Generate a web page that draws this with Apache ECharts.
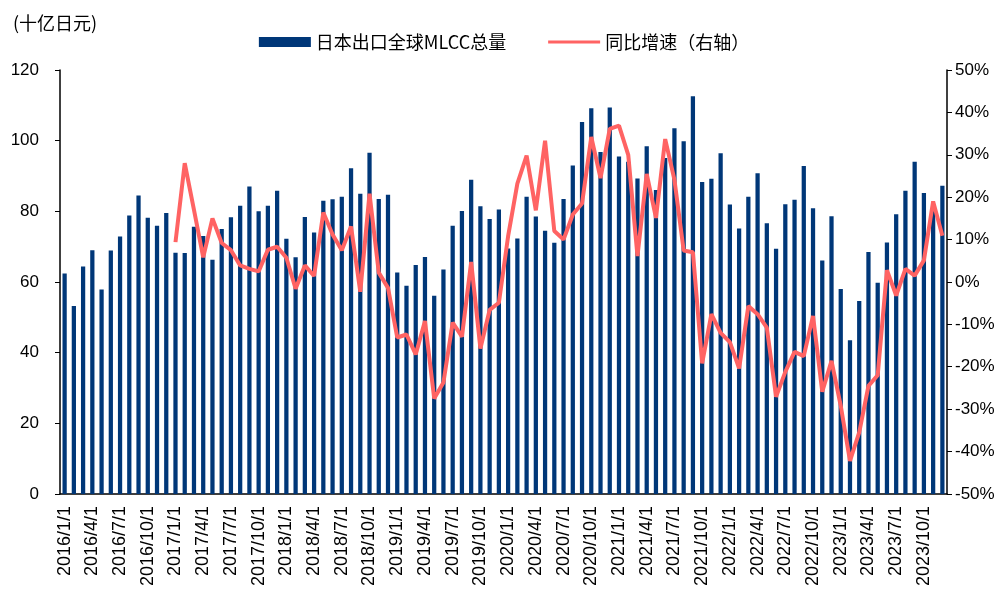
<!DOCTYPE html>
<html>
<head>
<meta charset="utf-8">
<script src="https://cdn.jsdelivr.net/npm/echarts@6/dist/echarts.min.js"></script>
<style>
  html, body { margin: 0; padding: 0; background: #fff; }
  #chart { width: 1008px; height: 589px; }
</style>
</head>
<body>
<div id="chart"></div>
<script>
// Monthly MLCC exports from Japan (billion yen) and year-on-year growth (%)
const months = [];
for (let y = 2016; y <= 2023; y++) {
  for (let m = 1; m <= 12; m++) months.push(y + '/' + m + '/1');
}

const exportValues = [
  62.4, 53.2, 64.4, 69.0, 57.9, 68.9, 72.9, 78.8, 84.5, 78.2, 75.9, 79.5,
  68.3, 68.2, 75.6, 73.0, 66.3, 75.0, 78.3, 81.6, 87.0, 80.0, 81.6, 85.8,
  72.2, 67.0, 78.4, 74.0, 83.0, 83.4, 84.1, 92.2, 85.0, 96.6, 83.5, 84.7,
  62.7, 58.9, 64.8, 67.1, 56.1, 63.5, 75.9, 80.1, 88.9, 81.4, 77.8, 80.5,
  69.5, 72.3, 84.1, 78.5, 74.5, 71.1, 83.5, 93.0, 105.3, 109.2, 96.8, 109.4,
  95.5, 94.0, 89.3, 98.4, 86.0, 95.1, 103.5, 99.8, 112.6, 88.3, 89.2, 96.4,
  81.9, 75.1, 84.1, 90.8, 76.6, 69.4, 82.0, 83.3, 92.8, 80.9, 66.1, 78.6,
  58.0, 43.5, 54.6, 68.5, 59.8, 71.2, 79.2, 85.8, 94.0, 85.2, 80.5, 87.2
];

const yoyGrowth = [
  null, null, null, null, null, null, null, null, null, null, null, null,
  9.4, 28.0, 17.0, 5.8, 15.0, 9.2, 7.5, 3.9, 3.1, 2.5, 7.6, 8.3,
  5.7, -1.6, 3.9, 1.4, 16.4, 11.2, 7.5, 13.1, -2.3, 20.8, 2.2, -1.4,
  -13.1, -12.4, -17.1, -9.2, -27.5, -23.7, -9.6, -12.9, 4.7, -15.7, -6.6, -4.9,
  10.8, 23.2, 29.8, 16.9, 33.3, 12.0, 10.0, 15.9, 18.5, 34.2, 24.5, 36.1,
  36.9, 30.0, 6.1, 25.5, 15.1, 33.7, 24.1, 7.4, 7.0, -19.2, -7.6, -12.0,
  -14.2, -20.4, -5.7, -7.6, -10.8, -27.1, -21.2, -16.5, -17.5, -8.0, -25.9, -18.6,
  -29.2, -42.2, -35.5, -24.5, -22.0, 2.8, -3.2, 3.1, 1.5, 5.1, 19.0, 10.9
];

const barName = '日本出口全球MLCC总量';
const lineName = '同比增速（右轴）';
const unitLabel = '(十亿日元)';

const latin = '"Liberation Sans", Arial, sans-serif';
const cjk = '"Noto Sans CJK SC", "Liberation Sans", sans-serif';

const barColor = '#003778';
const lineColor = '#FF6363';

// Thin horizontal stroke for the growth-line legend entry; the leading
// move-to points pad the icon's bounds so the stroke stays 3px tall.
const lineIcon = 'path://M0,0 M52,10 M0,3.5 L52,3.5 L52,6.5 L0,6.5 Z';

const chart = echarts.init(document.getElementById('chart'), null, { renderer: 'canvas' });

chart.setOption({
  animation: false,
  backgroundColor: '#ffffff',
  title: {
    text: unitLabel,
    left: 8,
    top: 9,
    textStyle: { fontFamily: cjk, fontSize: 18, fontWeight: 'normal', color: '#000' }
  },
  legend: {
    top: 28,
    left: 'center',
    itemGap: 42,
    itemWidth: 52,
    itemHeight: 10,
    textStyle: { fontFamily: cjk, fontSize: 18, color: '#000' },
    data: [
      { name: barName, icon: 'rect' },
      { name: lineName, icon: lineIcon, itemStyle: { color: lineColor } }
    ]
  },
  grid: { left: 60, right: 61, top: 70, bottom: 94, containLabel: false },
  xAxis: {
    type: 'category',
    data: months,
    boundaryGap: true,
    axisLine: { lineStyle: { color: '#000', width: 1.5 } },
    axisTick: { interval: 2, length: 5, lineStyle: { color: '#000' } },
    axisLabel: {
      interval: 2,
      rotate: 90,
      margin: 12,
      fontFamily: latin,
      fontSize: 18,
      color: '#000'
    },
    splitLine: { show: false }
  },
  yAxis: [
    {
      type: 'value',
      min: 0,
      max: 120,
      interval: 20,
      position: 'left',
      axisLine: { show: true, lineStyle: { color: '#000', width: 1.5 } },
      axisTick: { show: true, length: 5, lineStyle: { color: '#000' } },
      axisLabel: { fontFamily: latin, fontSize: 17, color: '#000', margin: 21 },
      splitLine: { show: false }
    },
    {
      type: 'value',
      min: -50,
      max: 50,
      interval: 10,
      position: 'right',
      axisLine: { show: true, lineStyle: { color: '#000', width: 1.5 } },
      axisTick: { show: true, length: 5, lineStyle: { color: '#000' } },
      axisLabel: { fontFamily: latin, fontSize: 17, color: '#000', margin: 8, formatter: '{value}%' },
      splitLine: { show: false }
    }
  ],
  series: [
    {
      name: barName,
      type: 'bar',
      yAxisIndex: 0,
      data: exportValues,
      barWidth: '46%',
      itemStyle: { color: barColor }
    },
    {
      name: lineName,
      type: 'line',
      yAxisIndex: 1,
      data: yoyGrowth,
      symbol: 'none',
      connectNulls: false,
      lineStyle: { color: lineColor, width: 4 },
      itemStyle: { color: lineColor }
    }
  ]
});
</script>
</body>
</html>
